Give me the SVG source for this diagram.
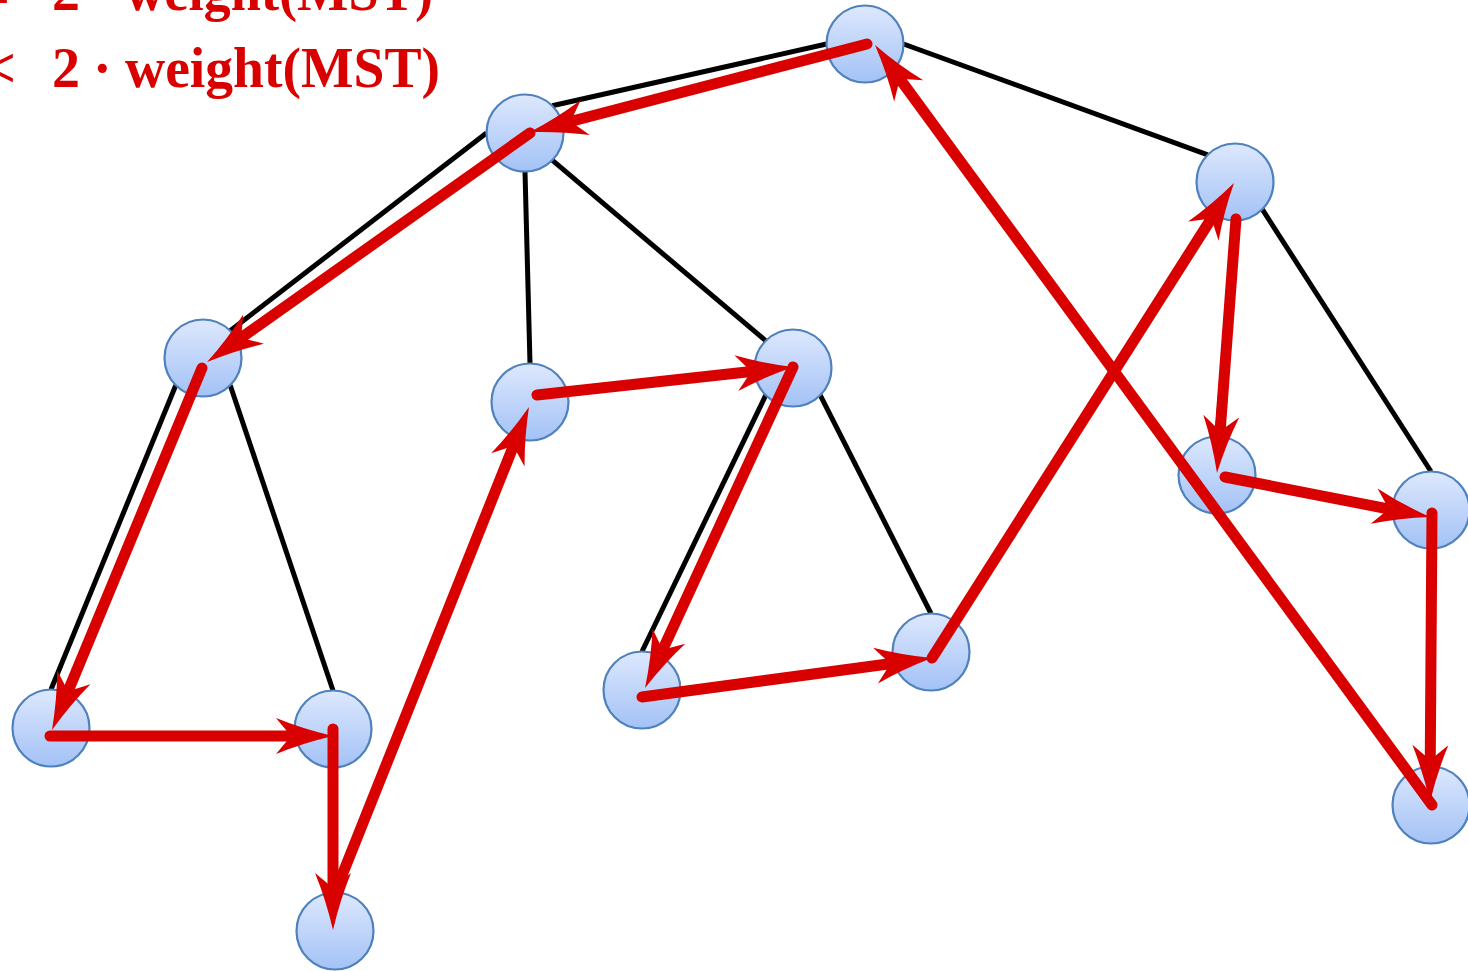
<svg xmlns="http://www.w3.org/2000/svg" width="1468" height="971" viewBox="0 0 1468 971">
  <defs>
    <linearGradient id="nodeFill" x1="0" y1="0" x2="0" y2="1">
      <stop offset="0" stop-color="#dde8fd"/>
      <stop offset="1" stop-color="#a3c2f6"/>
    </linearGradient>
    <marker id="head" markerUnits="userSpaceOnUse" orient="auto" refX="0" refY="0" markerWidth="80" markerHeight="50" viewBox="-30 -25 80 50" overflow="visible">
      <path d="M35,0 Q5,-7 -22,-18 L-7,0 L-22,18 Q5,7 35,0 Z" fill="#d90000"/>
    </marker>
    <style>
      .node circle { fill: url(#nodeFill); stroke: #4f81bd; stroke-width: 2.2; }
      .edge { stroke: #000; stroke-width: 5; fill: none; }
      .tour { stroke: #d90000; stroke-width: 11; stroke-linecap: round; fill: none; marker-end: url(#head); }
      .label { font-family: "Liberation Serif", "DejaVu Serif", serif; font-weight: bold; font-size: 56px; fill: #d90000; }
    </style>
  </defs>

  <g id="labels">
    <text class="label" x="-22" y="14">=</text>
    <text class="label" y="10"><tspan x="52">2</tspan><tspan x="125" textLength="308" lengthAdjust="spacingAndGlyphs">weight(MST)</tspan></text>
    <text class="label" y="87"><tspan x="-16">&lt;</tspan><tspan x="52">2</tspan><tspan x="93">·</tspan><tspan x="125" textLength="315" lengthAdjust="spacingAndGlyphs">weight(MST)</tspan></text>
  </g>

  <g id="tree-edges">
    <line class="edge" x1="552.2" y1="105.8" x2="826.5" y2="44"/>
    <line class="edge" x1="903.5" y1="44" x2="1207.8" y2="154.8"/>
    <line class="edge" x1="486.5" y1="133" x2="230.2" y2="330.8"/>
    <line class="edge" x1="525" y1="171.5" x2="530" y2="363.5"/>
    <line class="edge" x1="552.2" y1="160.2" x2="765.8" y2="340.8"/>
    <line class="edge" x1="175.8" y1="385.2" x2="51" y2="689.5"/>
    <line class="edge" x1="230.2" y1="385.2" x2="333" y2="690.5"/>
    <line class="edge" x1="765.8" y1="395.2" x2="642" y2="651.5"/>
    <line class="edge" x1="820.2" y1="395.2" x2="931" y2="613.5"/>
    <line class="edge" x1="1262.2" y1="209.2" x2="1431" y2="471.5"/>
    <line class="edge" x1="1235" y1="220.5" x2="1217" y2="436.5"/>
    <line class="edge" x1="333" y1="767.5" x2="335" y2="892.5"/>
    <line class="edge" x1="1431" y1="548.5" x2="1431" y2="766.5"/>
  </g>

  <g id="n1" class="node"><circle cx="865" cy="44" r="38.5"/></g>
  <g id="n2" class="node"><circle cx="525" cy="133" r="38.5"/></g>
  <g id="n3" class="node"><circle cx="203" cy="358" r="38.5"/></g>
  <g id="n4" class="node"><circle cx="51" cy="728" r="38.5"/></g>
  <g id="n5" class="node"><circle cx="333" cy="729" r="38.5"/></g>
  <g id="n6" class="node"><circle cx="335" cy="931" r="38.5"/></g>
  <g id="n7" class="node"><circle cx="530" cy="402" r="38.5"/></g>
  <g id="n8" class="node"><circle cx="793" cy="368" r="38.5"/></g>
  <g id="n9" class="node"><circle cx="642" cy="690" r="38.5"/></g>
  <g id="n10" class="node"><circle cx="931" cy="652" r="38.5"/></g>
  <g id="n11" class="node"><circle cx="1235" cy="182" r="38.5"/></g>
  <g id="n12" class="node"><circle cx="1217" cy="475" r="38.5"/></g>
  <g id="n13" class="node"><circle cx="1431" cy="510" r="38.5"/></g>
  <g id="n14" class="node"><circle cx="1431" cy="805" r="38.5"/></g>

  <g id="tour">
    <line class="tour" x1="867" y1="44" x2="563.9" y2="123.2"/>
    <line class="tour" x1="530" y1="133" x2="235.6" y2="341.8"/>
    <line class="tour" x1="202" y1="368" x2="65.4" y2="697.7"/>
    <line class="tour" x1="50" y1="736" x2="298" y2="736"/>
    <line class="tour" x1="333" y1="729" x2="333" y2="895"/>
    <line class="tour" x1="337" y1="888" x2="516" y2="439.5"/>
    <line class="tour" x1="537" y1="395" x2="758.2" y2="370.8"/>
    <line class="tour" x1="793" y1="367" x2="659.7" y2="656.2"/>
    <line class="tour" x1="642" y1="697" x2="897.3" y2="662.7"/>
    <line class="tour" x1="932" y1="658" x2="1215.2" y2="212.5"/>
    <line class="tour" x1="1236" y1="219" x2="1219.6" y2="438.1"/>
    <line class="tour" x1="1225" y1="477" x2="1395.7" y2="510.3"/>
    <line class="tour" x1="1432" y1="513" x2="1430.2" y2="767"/>
    <line class="tour" x1="1432" y1="805" x2="895.7" y2="73.2"/>
  </g>
</svg>
